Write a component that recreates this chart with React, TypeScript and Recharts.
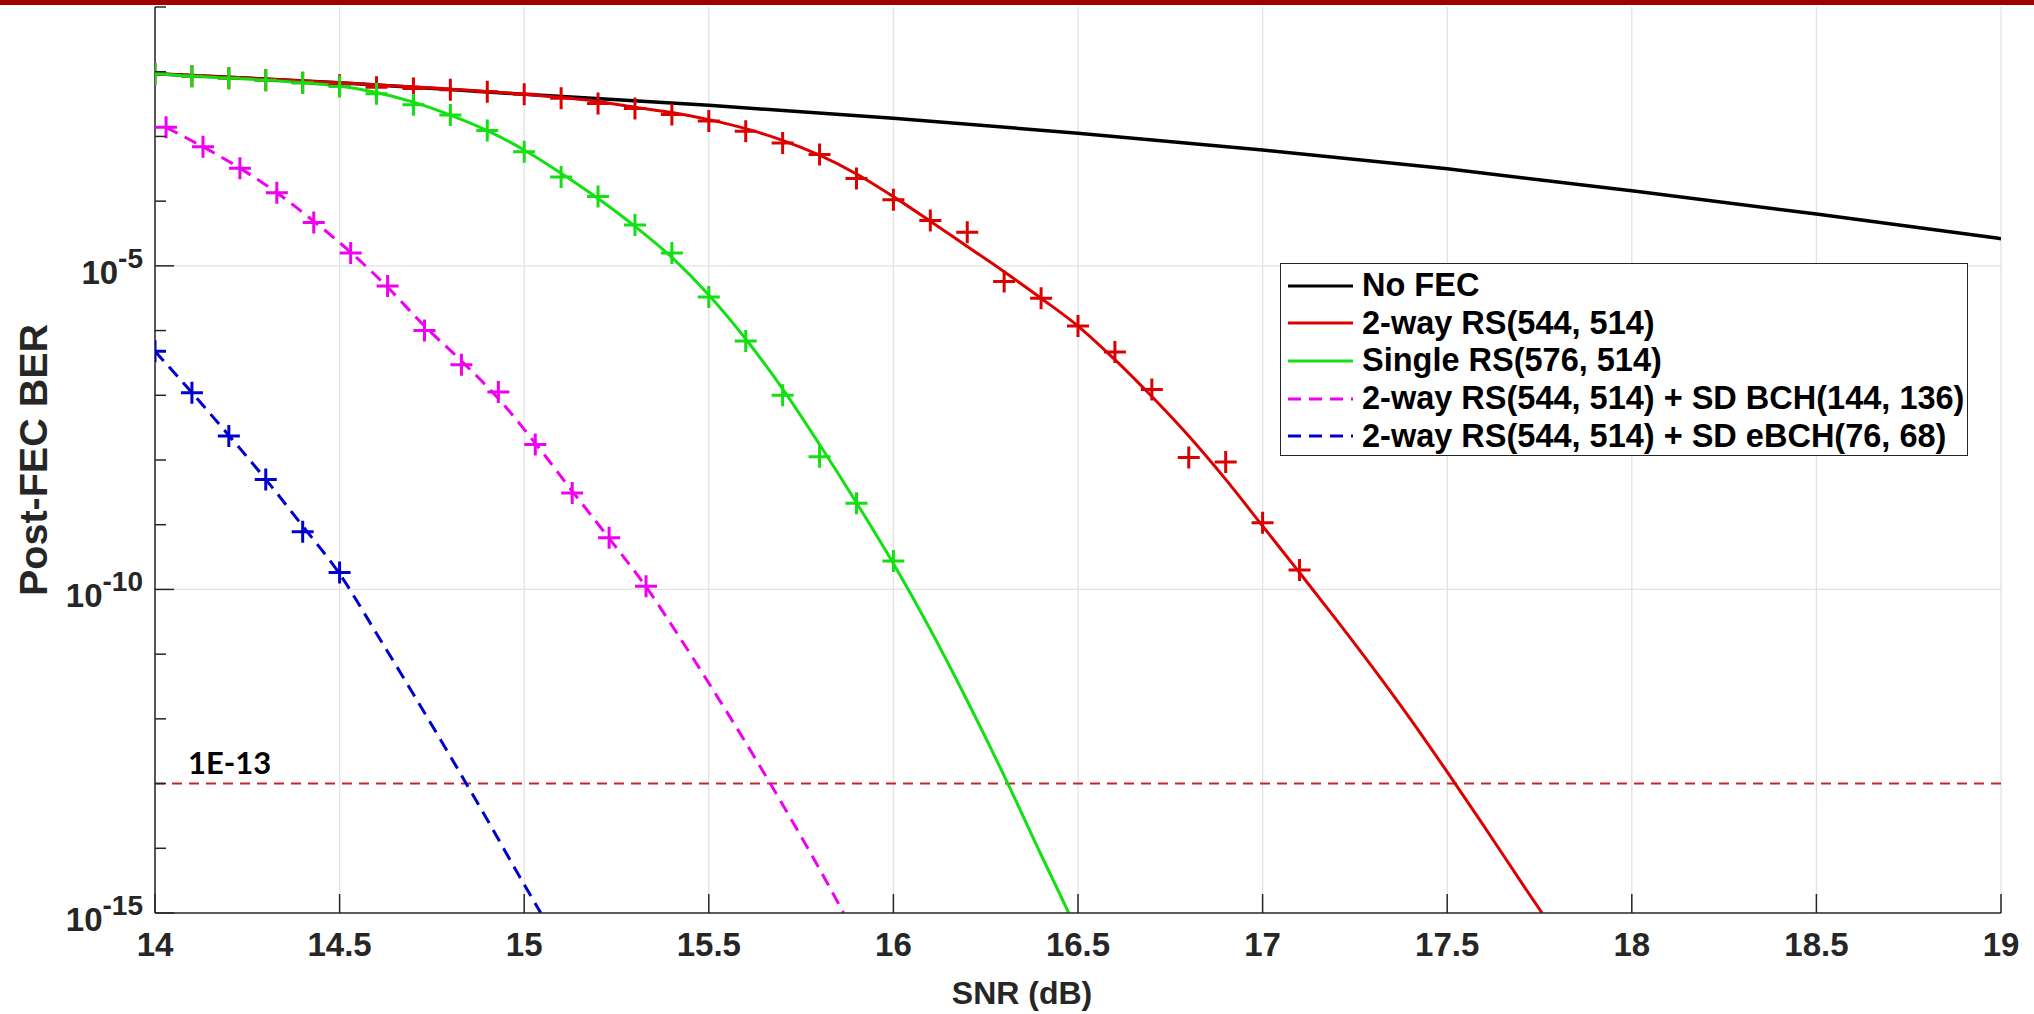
import React from 'react';
import { LineChart, Line, XAxis, YAxis, CartesianGrid, ReferenceLine, Legend } from 'recharts';

// ---------- layout / style constants ----------
const CHART_W = 2034;
const CHART_H = 1014;
const FONT = '"Liberation Sans", Arial, Helvetica, sans-serif';
const AXIS_COLOR = '#262626';
const GRID_COLOR = '#e2e2e2';

// ---------- axes ----------
const X_DOMAIN = [14, 19];
const X_TICKS = [14, 14.5, 15, 15.5, 16, 16.5, 17, 17.5, 18, 18.5, 19];
const Y_DOMAIN = [1e-15, 1e-1];
const Y_TICKS = [1e-15, 1e-14, 1e-13, 1e-12, 1e-11, 1e-10, 1e-9, 1e-8, 1e-7, 1e-6, 1e-5, 1e-4, 1e-3, 1e-2, 1e-1];
const Y_LABELED_EXP = [-15, -10, -5];
const Y_GRID = [1e-10, 1e-5];
const THRESHOLD = 1e-13;
const THRESHOLD_LABEL = '1E-13';
const X_LABEL = 'SNR (dB)';
const Y_LABEL = 'Post-FEC BER';

// ---------- series meta ----------
const SERIES_NAMES = [
  'No FEC',
  '2-way RS(544, 514)',
  'Single RS(576, 514)',
  '2-way RS(544, 514) + SD BCH(144, 136)',
  '2-way RS(544, 514) + SD eBCH(76, 68)',
];
const SERIES_COLORS = ['#000000', '#dd0000', '#12e012', '#f000f0', '#0000cc'];
const SERIES_DASHED = [false, false, false, true, true];

// No FEC
const NOFEC_SNR = [14, 14.5, 15, 15.5, 16, 16.5, 17, 17.5, 18, 18.5, 19];
const NOFEC_LOG = [-2.03, -2.17, -2.35, -2.52, -2.72, -2.95, -3.21, -3.5, -3.84, -4.2, -4.58];

// 2-way RS(544,514): fitted curve + simulated markers
const RS2_CURVE_SNR = [14, 14.5, 15, 15.2, 15.3, 15.4, 15.5, 15.6, 15.7, 15.8, 15.9, 16, 16.1, 16.2, 16.3, 16.4, 16.5, 16.6, 16.7, 16.8, 16.9, 17, 17.1, 17.2, 17.3, 17.4, 17.5, 17.6, 17.7, 17.757];
const RS2_CURVE_LOG = [-2.03, -2.17, -2.35, -2.46, -2.55, -2.63, -2.74, -2.88, -3.06, -3.29, -3.58, -3.93, -4.31, -4.7, -5.09, -5.5, -5.93, -6.45, -7.02, -7.63, -8.3, -9.02, -9.74, -10.47, -11.22, -12.0, -12.82, -13.66, -14.52, -15];
const RS2_MARK_SNR = [14, 14.1, 14.2, 14.3, 14.4, 14.5, 14.6, 14.7, 14.8, 14.9, 15, 15.1, 15.2, 15.3, 15.4, 15.5, 15.6, 15.7, 15.8, 15.9, 16, 16.1, 16.2, 16.3, 16.4, 16.5, 16.6, 16.7, 16.8, 16.9, 17, 17.1];
const RS2_MARK_LOG = [-2.03, -2.07, -2.1, -2.13, -2.17, -2.21, -2.24, -2.26, -2.28, -2.31, -2.35, -2.41, -2.49, -2.57, -2.66, -2.76, -2.92, -3.1, -3.28, -3.65, -3.98, -4.3, -4.48, -5.24, -5.5, -5.93, -6.33, -6.91, -7.96, -8.03, -8.97, -9.7];

// Single RS(576,514)
const SRS_CURVE_SNR = [14, 14.1, 14.2, 14.3, 14.4, 14.5, 14.6, 14.7, 14.8, 14.9, 15, 15.1, 15.2, 15.3, 15.4, 15.5, 15.6, 15.7, 15.8, 15.9, 16, 16.1, 16.2, 16.3, 16.4, 16.475];
const SRS_CURVE_LOG = [-2.03, -2.07, -2.1, -2.13, -2.17, -2.22, -2.32, -2.47, -2.67, -2.91, -3.21, -3.57, -3.96, -4.39, -4.87, -5.45, -6.13, -6.9, -7.76, -8.66, -9.6, -10.62, -11.72, -12.88, -14.1, -15];
const SRS_MARK_SNR = [14, 14.1, 14.2, 14.3, 14.4, 14.5, 14.6, 14.7, 14.8, 14.9, 15, 15.1, 15.2, 15.3, 15.4, 15.5, 15.6, 15.7, 15.8, 15.9, 16];
const SRS_MARK_LOG = [-2.03, -2.07, -2.1, -2.13, -2.17, -2.23, -2.34, -2.51, -2.67, -2.91, -3.235, -3.625, -3.93, -4.37, -4.8, -5.48, -6.16, -7.0, -7.95, -8.67, -9.56];

// 2-way RS + SD BCH(144,136)
const BCH_CURVE_SNR = [14.03, 14.13, 14.23, 14.33, 14.43, 14.53, 14.63, 14.73, 14.83, 14.93, 15.03, 15.13, 15.23, 15.33, 15.43, 15.53, 15.63, 15.73, 15.83, 15.865];
const BCH_CURVE_LOG = [-2.86, -3.16, -3.49, -3.87, -4.31, -4.79, -5.33, -5.93, -6.47, -7.05, -7.74, -8.48, -9.21, -9.96, -10.82, -11.72, -12.65, -13.62, -14.63, -15];
const BCH_MARK_SNR = [14.03, 14.13, 14.23, 14.33, 14.43, 14.53, 14.63, 14.73, 14.83, 14.93, 15.03, 15.13, 15.23, 15.33];
const BCH_MARK_LOG = [-2.86, -3.16, -3.49, -3.87, -4.33, -4.8, -5.31, -6.0, -6.53, -6.95, -7.76, -8.51, -9.2, -9.95];

// 2-way RS + SD eBCH(76,68)
const EBCH_CURVE_SNR = [14, 14.1, 14.2, 14.3, 14.4, 14.5, 14.6, 14.7, 14.8, 14.9, 15, 15.045];
const EBCH_CURVE_LOG = [-6.32, -6.96, -7.62, -8.3, -9.02, -9.76, -10.68, -11.62, -12.58, -13.56, -14.56, -15];
const EBCH_MARK_SNR = [14, 14.1, 14.2, 14.3, 14.4, 14.5];
const EBCH_MARK_LOG = [-6.32, -6.96, -7.63, -8.3, -9.11, -9.74];

const toPoints = (xs: number[], logs: number[]) => xs.map((x, i) => ({ x, y: Math.pow(10, logs[i]) }));

const NOFEC = toPoints(NOFEC_SNR, NOFEC_LOG);
const RS2_CURVE = toPoints(RS2_CURVE_SNR, RS2_CURVE_LOG);
const RS2_MARK = toPoints(RS2_MARK_SNR, RS2_MARK_LOG);
const SRS_CURVE = toPoints(SRS_CURVE_SNR, SRS_CURVE_LOG);
const SRS_MARK = toPoints(SRS_MARK_SNR, SRS_MARK_LOG);
const BCH_CURVE = toPoints(BCH_CURVE_SNR, BCH_CURVE_LOG);
const BCH_MARK = toPoints(BCH_MARK_SNR, BCH_MARK_LOG);
const EBCH_CURVE = toPoints(EBCH_CURVE_SNR, EBCH_CURVE_LOG);
const EBCH_MARK = toPoints(EBCH_MARK_SNR, EBCH_MARK_LOG);

const DASH = '13 8';

// ---------- renderers ----------
const plusDot = (color: string) => (props: any) => {
  const { cx, cy, index } = props;
  if (cx == null || cy == null) return <g key={`p-${index}`} />;
  return (
    <path
      key={`p-${index}`}
      d={`M${cx - 11},${cy}h22M${cx},${cy - 11}v22`}
      stroke={color}
      strokeWidth={3}
      fill="none"
    />
  );
};

const expOf = (v: number) => Math.round(Math.log10(v));

const LeftTick = (props: any) => {
  const { x, y, payload } = props;
  const e = expOf(payload.value);
  const major = Y_LABELED_EXP.includes(e);
  const len = major ? 19 : 11;
  return (
    <g>
      <line x1={x} x2={x + len} y1={y} y2={y} stroke={AXIS_COLOR} strokeWidth={1.5} />
      {major && (
        <text x={x - 12} y={y + 18} textAnchor="end" fontFamily={FONT} fontWeight="bold" fontSize={33} fill={AXIS_COLOR}>
          <tspan>10</tspan>
          <tspan dy={-16} fontSize={28}>{`${e}`}</tspan>
        </text>
      )}
    </g>
  );
};

const RightTick = (props: any) => {
  const { x, y, payload } = props;
  const e = expOf(payload.value);
  const len = Y_LABELED_EXP.includes(e) ? 19 : 11;
  return <line x1={x - len} x2={x} y1={y} y2={y} stroke={AXIS_COLOR} strokeWidth={1.5} />;
};

const BottomTick = (props: any) => {
  const { x, y, payload } = props;
  return (
    <g>
      <line x1={x} x2={x} y1={y} y2={y - 19} stroke={AXIS_COLOR} strokeWidth={1.5} />
      <text x={x} y={y + 43} textAnchor="middle" fontFamily={FONT} fontWeight="bold" fontSize={33} fill={AXIS_COLOR}>
        {`${payload.value}`}
      </text>
    </g>
  );
};

const TopTick = (props: any) => {
  const { x, y } = props;
  return <line x1={x} x2={x} y1={y} y2={y + 19} stroke={AXIS_COLOR} strokeWidth={1.5} />;
};

const XLabel = (props: any) => {
  const vb = props.viewBox || {};
  const cx = vb.x + vb.width / 2 - 56;
  return (
    <text x={cx} y={vb.y + 91} textAnchor="middle" fontFamily={FONT} fontWeight="bold" fontSize={32} fill={AXIS_COLOR}>
      {X_LABEL}
    </text>
  );
};

const YLabel = (props: any) => {
  const vb = props.viewBox || {};
  const cx = vb.x + 18;
  const cy = vb.y + vb.height / 2;
  return (
    <text
      x={cx}
      y={cy}
      transform={`rotate(-90, ${cx}, ${cy})`}
      textAnchor="middle"
      dominantBaseline="central"
      fontFamily={FONT}
      fontWeight="bold"
      fontSize={39.5}
      fill={AXIS_COLOR}
    >
      {Y_LABEL}
    </text>
  );
};

const ThresholdLabel = (props: any) => {
  const vb = props.viewBox || {};
  return (
    <text x={vb.x + 33} y={vb.y - 10} fontFamily="Lato, 'Open Sans', sans-serif" fontWeight="bold" fontSize={31} fill="#000">
      {THRESHOLD_LABEL}
    </text>
  );
};

const LegendBox = () => (
  <div
    style={{
      boxSizing: 'border-box',
      width: 688,
      height: 193,
      border: `1.5px solid ${AXIS_COLOR}`,
      background: '#fff',
      paddingTop: 3,
      fontFamily: FONT,
      fontWeight: 'bold',
      fontSize: 32.5,
      color: '#000',
    }}
  >
    {SERIES_NAMES.map((name, i) => (
      <div key={name} style={{ height: 37.6, display: 'flex', alignItems: 'center', whiteSpace: 'nowrap' }}>
        <svg width={81} height={20} style={{ flex: '0 0 auto' }}>
          <line
            x1={7}
            x2={72}
            y1={10}
            y2={10}
            stroke={SERIES_COLORS[i]}
            strokeWidth={3}
            strokeDasharray={SERIES_DASHED[i] ? DASH : undefined}
          />
        </svg>
        <span style={{ lineHeight: '37px' }}>{name}</span>
      </div>
    ))}
  </div>
);

export default function App() {
  return (
    <div style={{ position: 'fixed', left: 0, top: 0, width: CHART_W, height: CHART_H, background: '#fff', overflow: 'hidden' }}>
      <div style={{ position: 'absolute', left: 0, top: 0, width: CHART_W, height: 5, background: '#a00000' }} />
      <div style={{ position: 'absolute', left: 0, top: 0 }}>
        <LineChart width={CHART_W} height={CHART_H} margin={{ top: 7, right: 33, bottom: 11, left: 15 }}>
          <CartesianGrid horizontal={false} vertical stroke={GRID_COLOR} strokeWidth={1.3} />
          {Y_GRID.map((g) => (
            <ReferenceLine key={`g${g}`} y={g} stroke={GRID_COLOR} strokeWidth={1.3} />
          ))}
          <XAxis
            dataKey="x"
            type="number"
            domain={X_DOMAIN}
            ticks={X_TICKS}
            interval={0}
            allowDataOverflow
            height={90}
            tickSize={0}
            tickMargin={0}
            tickLine={false}
            axisLine={{ stroke: AXIS_COLOR, strokeWidth: 1.5 }}
            tick={(p: any) => <BottomTick {...p} />}
            label={(p: any) => <XLabel {...p} />}
          />
          <XAxis
            xAxisId="top"
            orientation="top"
            dataKey="x"
            type="number"
            domain={X_DOMAIN}
            ticks={X_TICKS}
            interval={0}
            allowDataOverflow
            height={0}
            tickSize={0}
            tickMargin={0}
            tickLine={false}
            axisLine={{ stroke: AXIS_COLOR, strokeWidth: 1.5 }}
            tick={(p: any) => <TopTick {...p} />}
          />
          <YAxis
            dataKey="y"
            type="number"
            scale="log"
            domain={Y_DOMAIN}
            ticks={Y_TICKS}
            interval={0}
            allowDataOverflow
            width={140}
            tickSize={0}
            tickMargin={0}
            tickLine={false}
            axisLine={{ stroke: AXIS_COLOR, strokeWidth: 1.5 }}
            tick={(p: any) => <LeftTick {...p} />}
            label={(p: any) => <YLabel {...p} />}
          />
          <YAxis
            yAxisId="right"
            orientation="right"
            dataKey="y"
            type="number"
            scale="log"
            domain={Y_DOMAIN}
            ticks={Y_TICKS}
            interval={0}
            allowDataOverflow
            width={0}
            tickSize={0}
            tickMargin={0}
            tickLine={false}
            axisLine={{ stroke: AXIS_COLOR, strokeWidth: 1.5 }}
            tick={(p: any) => <RightTick {...p} />}
          />
          <ReferenceLine
            y={THRESHOLD}
            stroke="#c3272b"
            strokeWidth={2}
            strokeDasharray="10 7"
            label={(p: any) => <ThresholdLabel {...p} />}
          />

          <Line data={NOFEC} dataKey="y" type="monotone" stroke={SERIES_COLORS[0]} strokeWidth={3.5} dot={false} activeDot={false} isAnimationActive={false} />

          <Line data={RS2_CURVE} dataKey="y" type="monotone" stroke={SERIES_COLORS[1]} strokeWidth={3} dot={false} activeDot={false} isAnimationActive={false} />
          <Line data={RS2_MARK} dataKey="y" stroke="none" dot={plusDot(SERIES_COLORS[1])} activeDot={false} legendType="none" isAnimationActive={false} />

          <Line data={SRS_CURVE} dataKey="y" type="monotone" stroke={SERIES_COLORS[2]} strokeWidth={3} dot={false} activeDot={false} isAnimationActive={false} />
          <Line data={SRS_MARK} dataKey="y" stroke="none" dot={plusDot(SERIES_COLORS[2])} activeDot={false} legendType="none" isAnimationActive={false} />

          <Line data={BCH_CURVE} dataKey="y" type="monotone" stroke={SERIES_COLORS[3]} strokeWidth={3} strokeDasharray={DASH} dot={false} activeDot={false} isAnimationActive={false} />
          <Line data={BCH_MARK} dataKey="y" stroke="none" dot={plusDot(SERIES_COLORS[3])} activeDot={false} legendType="none" isAnimationActive={false} />

          <Line data={EBCH_CURVE} dataKey="y" type="monotone" stroke={SERIES_COLORS[4]} strokeWidth={3} strokeDasharray={DASH} dot={false} activeDot={false} isAnimationActive={false} />
          <Line data={EBCH_MARK} dataKey="y" stroke="none" dot={plusDot(SERIES_COLORS[4])} activeDot={false} legendType="none" isAnimationActive={false} />

          <Legend
            layout="horizontal"
            verticalAlign="middle"
            align="center"
            wrapperStyle={{ left: 1280, top: 263, width: 688, height: 193 }}
            content={() => <LegendBox />}
          />
        </LineChart>
      </div>
    </div>
  );
}
